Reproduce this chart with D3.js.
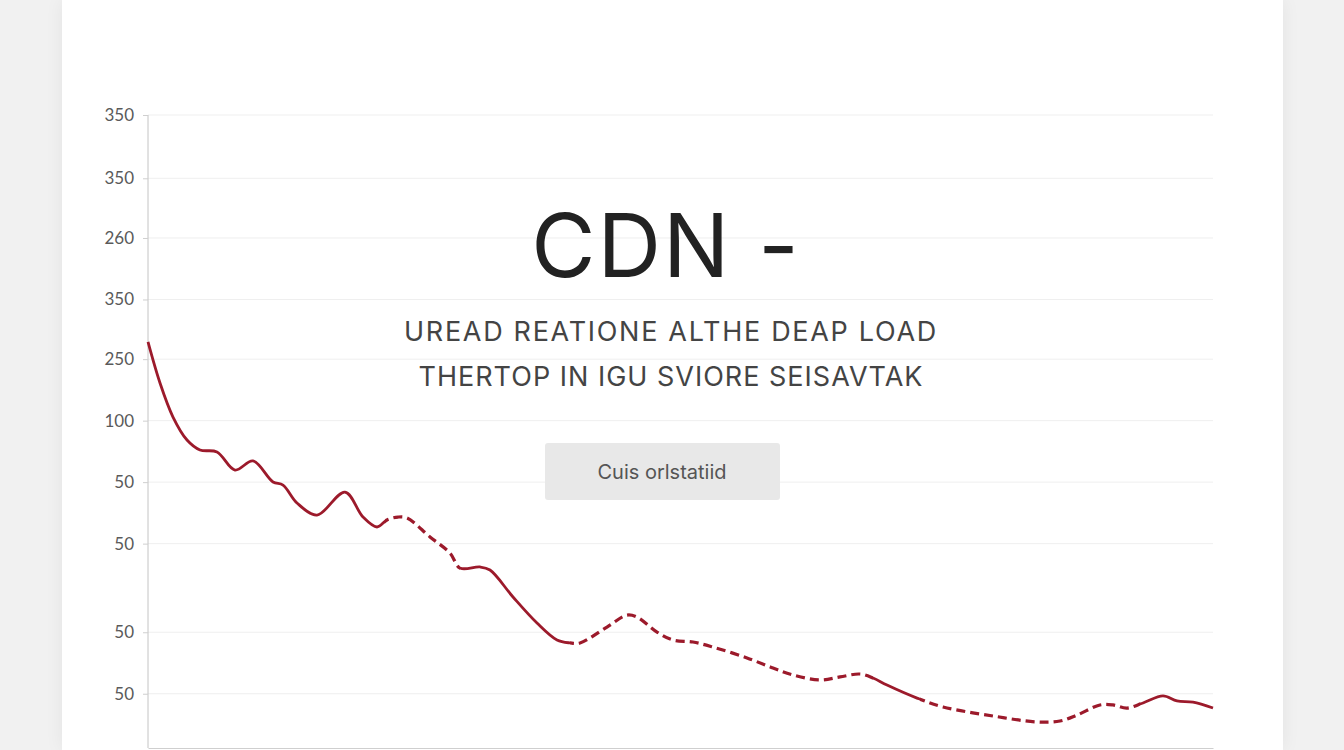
<!DOCTYPE html>
<html><head><meta charset="utf-8">
<script src="https://cdn.jsdelivr.net/npm/d3@7"></script>
<style>
html,body{margin:0;padding:0;background:#f1f1f1;width:1344px;height:750px;overflow:hidden;}
#card{position:absolute;left:62px;top:0;width:1221px;height:750px;background:#fff;box-shadow:0 0 18px rgba(0,0,0,0.06);}
svg{position:absolute;left:0;top:0;}
</style></head><body>
<div id="card"></div>
<svg id="chart" width="1344" height="750"></svg>
<script>
// ---- data ----
const xValues = [0,1.2,2.5,3.9,5.2,6.9,8.7,10.5,12.5,13.5,14.9,16.9,19.7,21.5,22.9,23.9,25.0,25.9,28.2,30.2,31.2,33.2,34.2,36.5,38.9,40.9,42.2,43.2,45.9,47.9,48.9,50.9,52.5,54.5,56.5,59.9,62.5,64.5,67.2,69.2,71.2,72.5,73.9,76.9,79.5,84.5,88.9,91.2,92.9,95.2,96.5,97.9,99.5,101.5,102.9,104.5,106.5];
const yValues = [224.5,201.8,183.0,170.3,164.8,163.7,153.7,158.7,147.1,145.4,135.5,128.8,141.5,127.7,122.2,126.1,127.7,127.2,116.7,107.8,99.5,100.1,98.4,83.5,69.1,59.7,58.1,58.1,66.9,73.5,72.4,64.1,59.7,58.6,55.8,49.8,44.2,40.4,37.6,39.3,40.9,38.7,34.8,27.6,22.7,17.7,14.4,14.9,18.2,23.8,23.8,22.1,24.9,28.8,26.0,25.4,22.1];
const segStarts = [0, 23.7, 31.2, 42.2, 72.5, 77.2, 99.2];
const segStyles = ["solid","dashed","solid","dashed","solid","dashed","solid"];
const tickValues = [350, 315, 282, 248, 215, 181, 147, 113, 64, 30];
const tickLabels = ["350","350","260","350","250","100","50","50","50","50"];
const titleText = "CDN -";
const subtitleLines = ["UREAD REATIONE ALTHE DEAP LOAD", "THERTOP IN IGU SVIORE SEISAVTAK"];
const buttonText = "Cuis orlstatiid";

// ---- chart ----
(function () {
const svg = d3.select("#chart");
const pLeft = 148, pRight = 1213, pTop = 115, pBottom = 748;
const x = d3.scaleLinear().domain([0, 106.5]).range([pLeft, pRight]);
const y = d3.scaleLinear().domain([0, 350]).range([pBottom, pTop]);

// gridlines
svg.append("g").selectAll("line").data(tickValues).join("line")
  .attr("x1", pLeft).attr("x2", pRight)
  .attr("y1", d => y(d)).attr("y2", d => y(d))
  .attr("stroke", "#efefef").attr("stroke-width", 1);

// y axis
const yAxis = d3.axisLeft(y).tickValues(tickValues).tickSize(5).tickPadding(9)
  .tickFormat((d, i) => tickLabels[i]);
const ga = svg.append("g").attr("transform", `translate(${pLeft},0)`).call(yAxis);
ga.select(".domain").attr("stroke", "#c4c4c4").attr("d", `M0,${pTop}V${pBottom}`);
ga.selectAll(".tick line").attr("stroke", "#cfcfcf");
ga.selectAll(".tick text").attr("fill", "#5a5a5a").style("font-family", "Lato, 'Open Sans', sans-serif").style("font-size", "17px");

// x axis baseline
const xAxis = d3.axisBottom(x).tickValues([]).tickSize(0);
const gx = svg.append("g").attr("transform", `translate(0,${pBottom})`).call(xAxis);
gx.select(".domain").attr("stroke", "#cfcfcf");

// line
const pts = xValues.map((v, i) => [v, yValues[i]]);
const line = d3.line().x(d => x(d[0])).y(d => y(d[1])).curve(d3.curveCatmullRom.alpha(0.5));
const defs = svg.append("defs");
segStarts.forEach((s, i) => {
  const e = i < segStarts.length - 1 ? segStarts[i + 1] : 106.5;
  const id = "clip" + i;
  const x0 = x(s) - (i === 0 ? 5 : 0);
  const x1 = x(e) + (i === segStarts.length - 1 ? 5 : 0);
  defs.append("clipPath").attr("id", id).append("rect")
    .attr("x", x0).attr("y", 0).attr("width", x1 - x0).attr("height", 750);
  svg.append("path").datum(pts)
    .attr("clip-path", `url(#${id})`)
    .attr("d", line)
    .attr("fill", "none")
    .attr("stroke", "#9c1a2b")
    .attr("stroke-width", segStyles[i] === "dashed" ? 3.2 : 2.8)
    .attr("stroke-linecap", "butt")
    .attr("stroke-dasharray", segStyles[i] === "dashed" ? "9,5" : null);
});

// title
svg.append("text").attr("x", 666).attr("y", 277).attr("text-anchor", "middle")
  .style("font-family", "Inter, Lato, sans-serif").style("font-weight", 400)
  .style("font-size", "88px").style("letter-spacing", "2px").attr("fill", "#222").text(titleText);

svg.selectAll(".sub").data(subtitleLines).join("text").attr("class", "sub")
  .attr("x", 671).attr("y", (d, i) => 341 + i * 45).attr("text-anchor", "middle")
  .style("font-family", "Inter, Lato, sans-serif").style("font-weight", 400)
  .style("font-size", "27px").style("letter-spacing", (d, i) => i === 0 ? "1.7px" : "1px")
  .attr("fill", "#444").text(d => d);

// button
svg.append("rect").attr("x", 545).attr("y", 443).attr("width", 235).attr("height", 57)
  .attr("rx", 3).attr("fill", "#e8e8e8");
svg.append("text").attr("x", 662).attr("y", 479).attr("text-anchor", "middle")
  .style("font-family", "Inter, Lato, sans-serif").style("font-size", "20px")
  .attr("fill", "#555").text(buttonText);
})();
</script>
</body></html>
